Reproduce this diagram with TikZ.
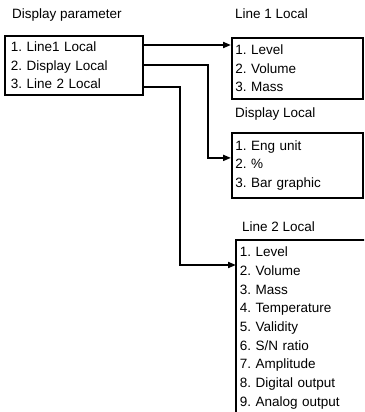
\documentclass[tikz,border=0pt]{standalone}
\usepackage{fontspec}
\setmainfont{Liberation Sans}
\frenchspacing
\usepackage{tikz}
\usetikzlibrary{arrows.meta,calc}

\tikzset{
  menubox/.style={draw,line width=1.8pt,align=left,anchor=north west,inner xsep=#1},
  menutitle/.style={anchor=base west,inner sep=0pt},
  menulink/.style={line width=1.8pt,-{Triangle[length=8pt,width=6pt]}},
}

\begin{document}
\begin{tikzpicture}[x=1pt,y=-1pt,font=\fontsize{13.5}{18.7}\selectfont]
  \clip (0,0) rectangle (364,412);
  \node[menutitle] (dptitle) at (12,19) {Display parameter};
  \node[menubox=6pt,text width=126pt,minimum width=138pt,minimum height=59pt] (dp) at (4,35)
    {1. Line1 Local\\2. Display Local\\3. Line 2 Local};
  \node[menutitle] (l1title) at (235,19) {Line 1 Local};
  \node[menubox=3.5pt,text width=124pt,minimum width=131pt,minimum height=61pt] (l1) at (231,37)
    {1. Level\\2. Volume\\3. Mass};
  \node[menutitle] (dltitle) at (235,117) {Display Local};
  \node[menubox=3.5pt,text width=124pt,minimum width=131pt,minimum height=65pt] (dl) at (231,132)
    {1. Eng unit\\2. \%\\3. Bar graphic};
  \node[menutitle] (l2title) at (242,231) {Line 2 Local};
  \node[menubox=3pt,draw=none,inner ysep=6pt,text width=140pt] (l2) at (236,240)
    {1. Level\\2. Volume\\3. Mass\\4. Temperature\\5. Validity\\6. S/N ratio\\7. Amplitude\\8. Digital output\\9. Analog output};
  % the list runs off the page at the bottom and right
  \draw[line width=1.8pt] ($(l2.south west)+(0,10)$) -- (l2.north west) -- (l2.north east);
  \draw[menulink] ($(dp.north east)+(0,10)$) coordinate (a1) -- (a1 -| l1.west);
  \draw[menulink] (dp.east) -- ++(64,0) |- ($(dl.west)+(0,-7.5)$);
  \draw[menulink] ($(dp.south east)+(0,-9)$) -- ++(36,0) |- ($(l2.north west)+(0,25)$);
\end{tikzpicture}
\end{document}
